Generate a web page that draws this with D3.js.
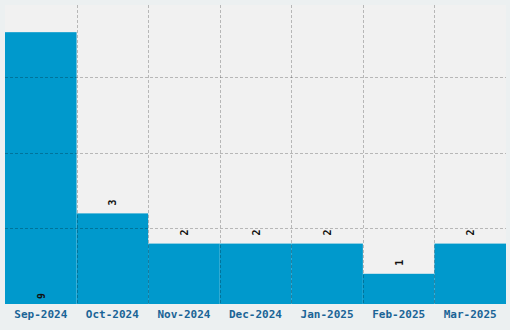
<!DOCTYPE html>
<html>
<head>
<meta charset="utf-8">
<script src="https://cdn.jsdelivr.net/npm/d3@7"></script>
<style>
  body { margin: 0; background: #ecf0f1; }
  svg { display: block; }
</style>
</head>
<body>
<svg id="chart" width="510" height="330"></svg>
<script>
// monthly counts
const months = ['Sep-2024', 'Oct-2024', 'Nov-2024', 'Dec-2024', 'Jan-2025', 'Feb-2025', 'Mar-2025'];
const counts = [9, 3, 2, 2, 2, 1, 2];
const gridTicks = [2.5, 5, 7.5];

const svg = d3.select('#chart');
const width = +svg.attr('width');
const height = +svg.attr('height');
const margin = { top: 5, right: 4, bottom: 26, left: 5 };
const innerWidth = width - margin.left - margin.right;
const innerHeight = height - margin.top - margin.bottom;

const data = months.map((m, i) => ({ month: m, value: counts[i] }));

const xScale = d3.scaleBand()
  .domain(months)
  .range([0, innerWidth])
  .padding(0);

const yScale = d3.scaleLinear()
  .domain([0, 9.9])
  .range([innerHeight, 0]);

const g = svg.append('g')
  .attr('transform', `translate(${margin.left},${margin.top})`);

g.append('rect')
  .attr('width', innerWidth)
  .attr('height', innerHeight)
  .attr('fill', '#f1f1f1');

g.selectAll('.bar').data(data)
  .enter().append('rect')
  .attr('class', 'bar')
  .attr('x', d => xScale(d.month))
  .attr('y', d => yScale(d.value))
  .attr('width', xScale.bandwidth())
  .attr('height', d => innerHeight - yScale(d.value))
  .attr('fill', '#0099cc');

// dashed grid drawn over the bars
const grid = g.append('g')
  .attr('stroke', 'rgba(0,0,0,0.24)')
  .attr('stroke-dasharray', '3,2')
  .attr('stroke-width', 1);

grid.selectAll('.hgrid').data(gridTicks)
  .enter().append('line')
  .attr('x1', 0).attr('x2', innerWidth)
  .attr('y1', d => Math.round(yScale(d)) + 0.5)
  .attr('y2', d => Math.round(yScale(d)) + 0.5);

grid.selectAll('.vgrid').data(months.slice(1))
  .enter().append('line')
  .attr('y1', 0).attr('y2', innerHeight)
  .attr('x1', d => Math.round(xScale(d)) + 0.5)
  .attr('x2', d => Math.round(xScale(d)) + 0.5);

const maxVal = d3.max(counts);

// value labels, turned on their side
const valG = g.selectAll('.val').data(data)
  .enter().append('g')
  .attr('class', 'val')
  .attr('transform', d => {
    const cx = xScale(d.month) + xScale.bandwidth() / 2 + 4;
    const cy = d.value === maxVal ? innerHeight - 8 : yScale(d.value) - 11;
    return `translate(${cx},${cy})`;
  });

valG.append('text')
  .attr('transform', 'rotate(-90)')
  .attr('text-anchor', 'middle')
  .attr('font-family', 'DejaVu Sans Mono, monospace')
  .attr('font-weight', 'bold')
  .attr('font-size', '10px')
  .attr('fill', '#111')
  .text(d => d.value);

// month labels under each bar
g.selectAll('.xlab').data(months)
  .enter().append('text')
  .attr('class', 'xlab')
  .attr('x', d => xScale(d) + xScale.bandwidth() / 2)
  .attr('y', innerHeight + 14)
  .attr('text-anchor', 'middle')
  .attr('font-family', 'DejaVu Sans Mono, monospace')
  .attr('font-weight', 'bold')
  .attr('font-size', '11px')
  .attr('fill', '#1a6496')
  .text(d => d);
</script>
</body>
</html>
